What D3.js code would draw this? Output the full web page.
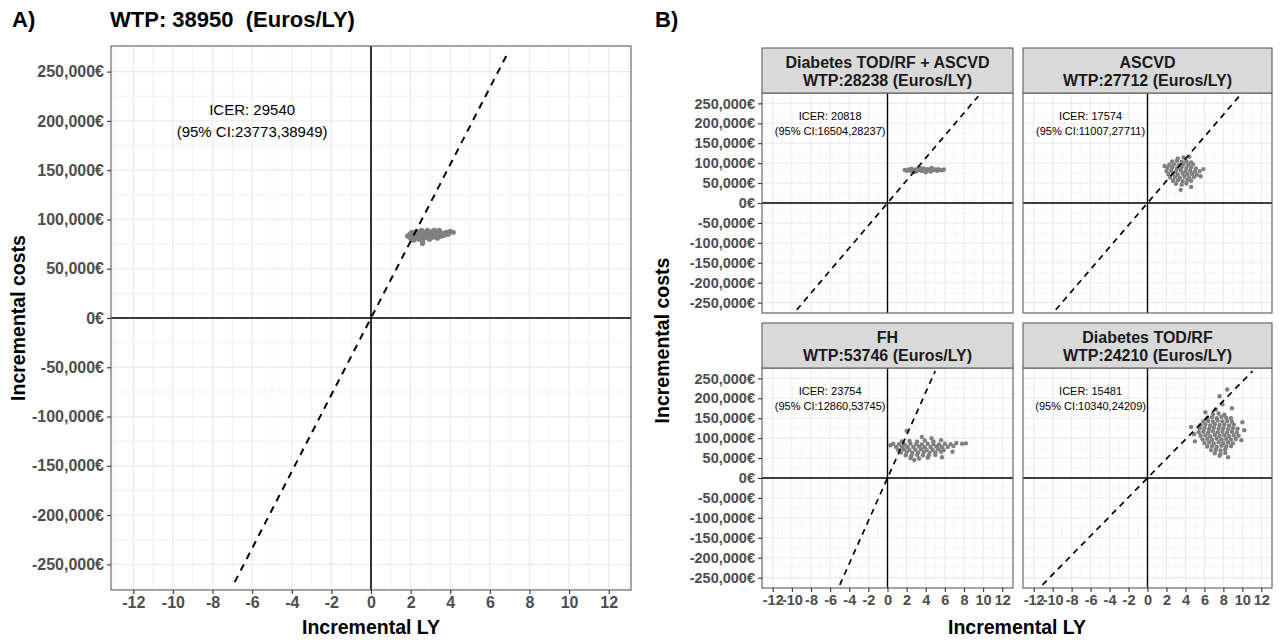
<!DOCTYPE html>
<html>
<head>
<meta charset="utf-8">
<script src="https://cdn.jsdelivr.net/npm/d3@7"></script>
<style>
  body { margin: 0; background: #fff; }
  svg { display: block; font-family: "Liberation Sans", Arial, sans-serif; }
</style>
</head>
<body>
<svg id="chart" width="1282" height="640"></svg>
<script>
// ---- data -------------------------------------------------------------
const lyTicks = [-12, -10, -8, -6, -4, -2, 0, 2, 4, 6, 8, 10, 12];
const lyMinor = [-13, -11, -9, -7, -5, -3, -1, 1, 3, 5, 7, 9, 11, 13];
const costTicks = [-250000, -200000, -150000, -100000, -50000, 0, 50000, 100000, 150000, 200000, 250000];
const costMinor = [-275000, -225000, -175000, -125000, -75000, -25000, 25000, 75000, 125000, 175000, 225000, 275000];
const lyDomain = [-13.125, 13.125];
const costDomain = [-276000, 276000];
const wtpLineCost = [-268000, 268000];   // dashed WTP line drawn between these costs
const icerLabelAt = [-6, 200000];

// Panel A
const wtpA = 38950;
const icerA = 29540;
const ciA = "23773,38949";
// [incremental LY, incremental cost in thousands]
const ptsA = [
  [1.85,83],[1.95,85],[2.0,81],[2.05,87],[2.1,84],[2.15,79],[2.2,86],[2.25,82],[2.3,88],[2.35,84],
  [2.4,80],[2.45,86],[2.5,83],[2.55,89],[2.6,85],[2.6,78],[2.65,81],[2.7,87],[2.75,84],[2.8,82],
  [2.85,89],[2.9,86],[2.95,80],[3.0,84],[3.05,87],[3.1,82],[3.15,85],[3.2,89],[3.25,83],[3.3,86],
  [3.35,81],[3.4,85],[3.5,87],[3.55,83],[3.6,86],[3.7,84],[3.8,87],[3.9,85],[4.0,88],[4.15,87],
  [2.3,82],[2.5,87],[2.7,83],[2.9,84],[3.1,88],[2.6,75.5],[3.45,89]
];

// Panel B facets
const facetNames = ["Diabetes TOD/RF + ASCVD", "ASCVD", "FH", "Diabetes TOD/RF"];
const facetWTP = [28238, 27712, 53746, 24210];
const facetICER = [20818, 17574, 23754, 15481];
const facetCI = ["16504,28237", "11007,27711", "12860,53745", "10340,24209"];

const ptsDiabAscvd = [
  [1.8,83],[2.0,81],[2.2,84],[2.4,80],[2.5,86],[2.7,82],[2.9,84],[3.0,79],[3.2,86],[3.3,82],
  [3.5,84],[3.6,80],[3.8,87],[3.9,83],[4.1,81],[4.2,85],[4.4,83],[4.5,79],[4.7,86],[4.8,82],
  [5.0,84],[5.2,81],[5.3,85],[5.5,83],[5.7,82],[5.9,84],[3.4,88],[4.6,88],[2.8,78],[4.0,77]
];
const ptsAscvd = [
  [3.2,112],[3.8,114],
  [2.6,104],[3.1,106],[3.6,103],[4.1,105],[4.6,102],
  [2.3,96],[2.8,97],[3.3,95],[3.8,98],[4.3,96],[4.8,97],
  [2.1,88],[2.6,89],[3.1,87],[3.6,90],[4.1,88],[4.6,89],[5.1,87],
  [2.0,80],[2.5,81],[3.0,79],[3.5,82],[4.0,80],[4.5,81],[5.0,79],[5.5,80],
  [2.2,72],[2.7,73],[3.2,71],[3.7,74],[4.2,72],[4.7,73],[5.2,71],
  [2.4,64],[2.9,65],[3.4,63],[3.9,66],[4.4,64],[4.9,65],
  [2.7,56],[3.2,57],[3.7,55],[4.2,58],[4.6,56],
  [3.0,48],[3.6,46],[4.1,49],
  [3.5,33],[4.6,40],[5.9,85],[1.8,93],[4.4,116],[5.6,67]
];
const ptsFH = [
  [1.5,92],[2.3,93],[3.1,91],[3.9,94],[4.8,92],[5.6,95],
  [0.6,86],[1.2,85],[1.8,84],[2.4,86],[3.0,85],[3.6,84],[4.2,86],[4.8,85],[5.4,84],[6.0,86],[6.6,85],
  [0.9,78],[1.5,79],[2.1,77],[2.7,78],[3.3,79],[3.9,77],[4.5,78],[5.1,79],[5.7,77],[6.3,78],
  [1.1,71],[1.7,72],[2.3,70],[2.9,71],[3.5,72],[4.1,70],[4.7,71],[5.3,72],[5.9,70],
  [1.4,64],[2.0,65],[2.6,63],[3.2,64],[3.8,65],[4.4,63],[5.0,64],[5.6,66],
  [1.9,57],[2.5,56],[3.1,58],[3.7,57],[4.3,56],[5.0,58],
  [2.4,50],[3.3,49],[4.2,51],
  [7.2,88],[7.8,86],[8.2,87],[6.9,80],[0.3,82],[3.6,103],[2.0,118],[4.6,100],[6.8,66],[2.8,45],[5.7,52]
];
const ptsDiab = [
  [6.9,160],[7.5,162],[8.1,159],
  [6.3,151],[6.8,152],[7.3,150],[7.8,153],[8.3,151],[8.8,150],
  [5.9,142],[6.4,143],[6.9,141],[7.4,144],[7.9,142],[8.4,143],[8.9,141],
  [5.6,133],[6.1,134],[6.6,132],[7.1,135],[7.6,133],[8.1,134],[8.6,132],[9.1,134],
  [5.5,124],[6.0,125],[6.5,123],[7.0,126],[7.5,124],[8.0,125],[8.5,123],[9.0,125],[9.5,124],
  [5.4,115],[5.9,116],[6.4,114],[6.9,117],[7.4,115],[7.9,116],[8.4,114],[8.9,116],[9.4,115],
  [5.6,106],[6.1,107],[6.6,105],[7.1,108],[7.6,106],[8.1,107],[8.6,105],[9.1,107],[9.6,106],
  [5.8,97],[6.3,98],[6.8,96],[7.3,99],[7.8,97],[8.3,98],[8.8,96],[9.3,98],
  [6.0,88],[6.5,89],[7.0,87],[7.5,90],[8.0,88],[8.5,89],[9.0,87],
  [6.3,79],[6.8,80],[7.3,78],[7.8,81],[8.3,79],[8.8,80],
  [6.7,70],[7.2,71],[7.7,69],[8.2,72],
  [7.1,62],[7.7,60],[8.2,63],
  [8.5,52],[7.6,56],[4.6,128],[4.9,110],[10.2,120],[9.9,95],[8.9,175],[7.9,185],
  [8.4,222],[7.6,205],[7.2,172],[10.0,140],[5.0,92],[6.1,165]
];
const facetPts = [ptsDiabAscvd, ptsAscvd, ptsFH, ptsDiab];

// ---- drawing ----------------------------------------------------------
const svg = d3.select("#chart");
const enLocale = d3.formatLocale({ decimal: ".", thousands: ",", grouping: [3], currency: ["", "€"], minus: "-" });
const fmtCost = enLocale.format("$,");
const fmtLY = enLocale.format("d");

function drawPanel(g, box, pts, wtp, icer, ci, o) {
  const x = d3.scaleLinear().domain(lyDomain).range([box.left, box.right]);
  const y = d3.scaleLinear().domain(costDomain).range([box.bottom, box.top]);

  g.append("rect")
    .attr("x", box.left).attr("y", box.top)
    .attr("width", box.right - box.left).attr("height", box.bottom - box.top)
    .attr("fill", "#fff");

  const grid = g.append("g").attr("stroke", "#ebebeb");
  grid.selectAll(".vmin").data(lyMinor).enter().append("line")
    .attr("x1", d => x(d)).attr("x2", d => x(d)).attr("y1", box.top).attr("y2", box.bottom)
    .attr("stroke-width", o.minorW);
  grid.selectAll(".hmin").data(costMinor).enter().append("line")
    .attr("y1", d => y(d)).attr("y2", d => y(d)).attr("x1", box.left).attr("x2", box.right)
    .attr("stroke-width", o.minorW);
  grid.selectAll(".vmaj").data(lyTicks).enter().append("line")
    .attr("x1", d => x(d)).attr("x2", d => x(d)).attr("y1", box.top).attr("y2", box.bottom)
    .attr("stroke-width", o.majorW);
  grid.selectAll(".hmaj").data(costTicks).enter().append("line")
    .attr("y1", d => y(d)).attr("y2", d => y(d)).attr("x1", box.left).attr("x2", box.right)
    .attr("stroke-width", o.majorW);

  g.append("g").attr("fill", "#808080")
    .selectAll("circle").data(pts).enter().append("circle")
    .attr("cx", d => x(d[0])).attr("cy", d => y(d[1] * 1000)).attr("r", o.r);

  // zero lines
  g.append("line").attr("x1", box.left).attr("x2", box.right).attr("y1", y(0)).attr("y2", y(0))
    .attr("stroke", "#000").attr("stroke-width", o.zeroW);
  g.append("line").attr("x1", x(0)).attr("x2", x(0)).attr("y1", box.top).attr("y2", box.bottom)
    .attr("stroke", "#000").attr("stroke-width", o.zeroW);

  // WTP threshold line
  const line = d3.line().x(d => x(d / wtp)).y(d => y(d));
  g.append("path").attr("d", line(wtpLineCost))
    .attr("fill", "none").attr("stroke", "#000")
    .attr("stroke-width", o.dashW).attr("stroke-dasharray", o.dash);

  const t = g.append("text")
    .attr("text-anchor", "middle").attr("font-size", o.icerSize).attr("fill", "#000")
    .attr("x", x(icerLabelAt[0])).attr("y", y(icerLabelAt[1]));
  t.append("tspan").attr("x", x(icerLabelAt[0])).attr("dy", -o.icerGap / 2 + o.icerSize * 0.35)
    .text("ICER: " + icer);
  t.append("tspan").attr("x", x(icerLabelAt[0])).attr("dy", o.icerGap)
    .text("(95% CI:" + ci + ")");

  g.append("rect")
    .attr("x", box.left).attr("y", box.top)
    .attr("width", box.right - box.left).attr("height", box.bottom - box.top)
    .attr("fill", "none").attr("stroke", "#5e5e5e").attr("stroke-width", 1.1);

  if (o.showY) {
    const ax = g.append("g").attr("transform", `translate(${box.left},0)`)
      .call(d3.axisLeft(y).tickValues(costTicks).tickFormat(fmtCost).tickSize(4).tickPadding(3));
    styleAxis(ax, o.tickSize);
  }
  if (o.showX) {
    const ax = g.append("g").attr("transform", `translate(0,${box.bottom})`)
      .call(d3.axisBottom(x).tickValues(lyTicks).tickFormat(fmtLY).tickSize(4).tickPadding(3));
    styleAxis(ax, o.tickSize);
  }
}

function styleAxis(ax, size) {
  ax.select(".domain").remove();
  ax.selectAll(".tick line").attr("stroke", "#333").attr("stroke-width", 1.1);
  ax.selectAll(".tick text")
    .attr("fill", "#4d4d4d").attr("font-size", size).attr("font-weight", "bold")
    .attr("font-family", "\"Liberation Sans\", Arial, sans-serif");
}

// ---- Panel A ----
const gA = svg.append("g");
const boxA = { left: 111, right: 631, top: 46, bottom: 590 };
drawPanel(gA, boxA, ptsA, wtpA, icerA, ciA, {
  minorW: 0.7, majorW: 1.3, zeroW: 1.6, dashW: 2, dash: "7,6", r: 2.6,
  icerSize: 15, icerGap: 22, tickSize: 16, showX: true, showY: true
});
svg.append("text").attr("x", 12).attr("y", 27).attr("font-size", 22).attr("font-weight", "bold").text("A)");
svg.append("text").attr("x", 110).attr("y", 27).attr("font-size", 22).attr("font-weight", "bold")
  .style("white-space", "pre").text("WTP: " + wtpA + "  (Euros/LY)");
svg.append("text").attr("x", (boxA.left + boxA.right) / 2).attr("y", 634)
  .attr("text-anchor", "middle").attr("font-size", 19.5).attr("font-weight", "bold").text("Incremental LY");
svg.append("text").attr("transform", `translate(25,${(boxA.top + boxA.bottom) / 2}) rotate(-90)`)
  .attr("text-anchor", "middle").attr("font-size", 19.5).attr("font-weight", "bold").text("Incremental costs");

// ---- Panel B ----
svg.append("text").attr("x", 655).attr("y", 27).attr("font-size", 22).attr("font-weight", "bold").text("B)");
const cols = [[762, 1013], [1023, 1272]];
const rows = [{ strip: 48, top: 93, bottom: 313 }, { strip: 323, top: 368, bottom: 588 }];
facetNames.forEach((name, i) => {
  const c = cols[i % 2], r = rows[Math.floor(i / 2)];
  const g = svg.append("g");
  const box = { left: c[0], right: c[1], top: r.top, bottom: r.bottom };
  drawPanel(g, box, facetPts[i], facetWTP[i], facetICER[i], facetCI[i], {
    minorW: 0.55, majorW: 1.1, zeroW: 1.4, dashW: 1.7, dash: "6,5", r: 2.2,
    icerSize: 11, icerGap: 15, tickSize: 14.5, showX: r === rows[1], showY: c === cols[0]
  });
  g.append("rect").attr("x", c[0]).attr("y", r.strip).attr("width", c[1] - c[0]).attr("height", r.top - r.strip)
    .attr("fill", "#d9d9d9").attr("stroke", "#5e5e5e").attr("stroke-width", 1.1);
  const cx = (c[0] + c[1]) / 2;
  g.append("text").attr("x", cx).attr("y", r.strip + 20).attr("text-anchor", "middle")
    .attr("font-size", 16).attr("font-weight", "bold").attr("fill", "#1a1a1a").text(name);
  g.append("text").attr("x", cx).attr("y", r.strip + 38).attr("text-anchor", "middle")
    .attr("font-size", 16).attr("font-weight", "bold").attr("fill", "#1a1a1a")
    .text("WTP:" + facetWTP[i] + " (Euros/LY)");
});
svg.append("text").attr("x", (cols[0][0] + cols[1][1]) / 2).attr("y", 634)
  .attr("text-anchor", "middle").attr("font-size", 19.5).attr("font-weight", "bold").text("Incremental LY");
svg.append("text").attr("transform", `translate(669,${(rows[0].top + rows[1].bottom) / 2}) rotate(-90)`)
  .attr("text-anchor", "middle").attr("font-size", 19.5).attr("font-weight", "bold").text("Incremental costs");
</script>
</body>
</html>
